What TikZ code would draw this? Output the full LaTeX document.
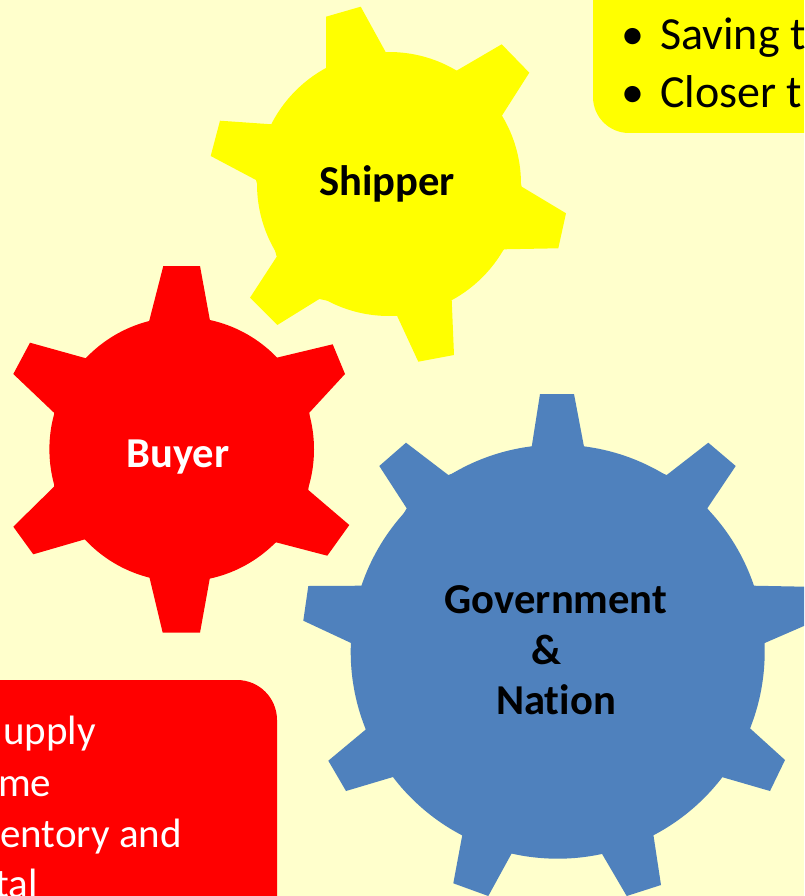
\documentclass[tikz,border=0pt]{standalone}
\usepackage{fontspec}
\setmainfont{Carlito}[Ligatures=NoCommon]
\definecolor{pagebg}{HTML}{FFFFCC}
\definecolor{gearyellow}{HTML}{FFFF00}
\definecolor{gearred}{HTML}{FF0000}
\definecolor{gearblue}{HTML}{4F81BD}
\tikzset{
  geartitle/.style={anchor=base,inner sep=0pt,font=\fontsize{42.6}{42.6}\selectfont\bfseries},
  boxtext/.style={anchor=base west,inner sep=0pt,font=\fontsize{41}{41}\selectfont},
  yellowtext/.style={anchor=base west,inner sep=0pt,font=\fontsize{46}{46}\selectfont},
}
\begin{document}
\begin{tikzpicture}[x=1pt,y=-1pt]
\useasboundingbox (0,0) rectangle (804,896);
\clip (0,0) rectangle (804,896);
\fill[pagebg] (0,0) rectangle (804,896);
% rounded call-out boxes, running off the page
\fill[gearyellow,rounded corners=36pt] (593,-80) rectangle (900,133);
\fill[gearred,rounded corners=40pt] (-80,680) rectangle (277,1000);
% Shipper gear
\fill[gearyellow] (389,184) circle (132);
\fill[gearyellow] (326,70)--(326,16.7)--(360.7,6.7)--(386,52.7)--(456,71)--(501.7,44.3)--(529.3,72.7)--(501.7,116)
  --(521.7,186.7)--(566,213.3)--(558.3,248.3)--(504,249.3)--(451.7,300)--(454,355)--(418.3,361.7)--(396.7,315)
  --(319.3,299)--(277.3,325)--(250,297.7)--(276.7,256.7)--(256,180)--(210.7,156)--(220,120.7)--(271.7,124.3)--cycle;
% Buyer gear
\fill[gearred] (181.7,449.3) circle (132.3);
\fill[gearred] (149,321.7)--(163.3,266)--(200,266)--(210,320.7)--(276.7,357.7)--(332.7,344.3)--(345,374)--(309.3,412.7)
  --(308.3,490)--(349.3,525)--(327.3,555.7)--(276,542.3)--(210,577.3)--(200,632.7)--(162.7,632.7)--(149.3,576.7)
  --(85,539.3)--(33.3,554.3)--(13.3,526.7)--(54,486.7)--(54,412.7)--(13.3,374)--(30,342.7)--(86,358.3)--cycle;
% Government & Nation gear
\fill[gearblue] (557.7,651.7) circle (207);
\fill[gearblue] (531.7,446.7)--(540,394)--(574,394)--(584,446.7)--(666.7,475)--(708.3,442.7)--(735.7,466)--(707.3,508.3)
  --(753.3,585.7)--(820,587)--(820,619)--(764,643.3)--(750,728.3)--(785,760)--(770,791)--(720.7,776.7)
  --(653.3,834.3)--(661,885)--(626.7,896)--(601.7,853.3)--(511.7,853.3)--(488.3,896)--(453.3,883.3)--(462.3,835)
  --(394,776.7)--(346,791)--(328.3,760.7)--(366,729.3)--(351.7,643.3)--(303.3,620.7)--(308.3,586)--(362.7,585.7)
  --(406.7,508.3)--(379.3,466)--(406,442.7)--(448.3,475)--cycle;
% gear titles
\node[geartitle,text=black] (shipper) at (387,196) {Shipper};
\node[geartitle,text=white] (buyer) at (178,467) {Buyer};
\node[geartitle,text=black] (gov) at (556,613) {Government};
\node[geartitle,text=black] (amp) at (546,664) {\&};
\node[geartitle,text=black] (nation) at (556,714) {Nation};
% call-out texts
\node[yellowtext,text=black] (saving) at (621,50) {\makebox[39pt][l]{•}Saving t};
\node[yellowtext,text=black] (closer) at (621,107.5) {\makebox[39pt][l]{•}Closer t};
\node[boxtext,text=white] (l1) at (3,744) {upply};
\node[boxtext,text=white] (l2) at (-2,796) {me};
\node[boxtext,text=white] (l3) at (0,847) {entory and};
\node[boxtext,text=white] (l4) at (-5,897) {tal};
\end{tikzpicture}
\end{document}
